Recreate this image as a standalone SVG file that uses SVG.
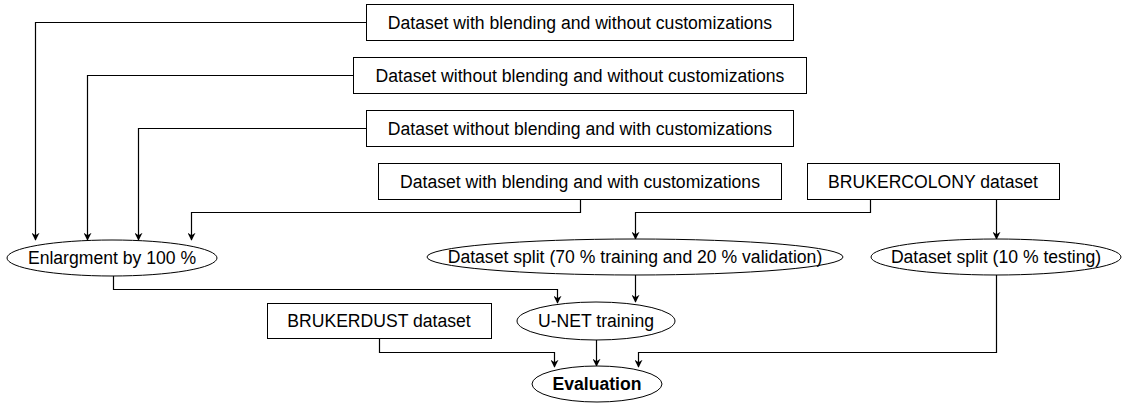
<svg xmlns="http://www.w3.org/2000/svg" width="1122" height="403" viewBox="0 0 1122 403">
<defs>
<marker id="ah" viewBox="0 0 10 10" refX="9" refY="5" markerWidth="8" markerHeight="8" markerUnits="userSpaceOnUse" orient="auto">
<path d="M0,0 L10,5 L0,10 L3,5 Z" fill="#000"/>
</marker>
</defs>
<style>
.box{fill:#fff;stroke:#000;stroke-width:1}
.t{font-family:"Liberation Sans",Arial,sans-serif;font-size:17.6px;fill:#000;text-anchor:middle;dominant-baseline:central}
.b{font-weight:bold}
.c{fill:none;stroke:#000;stroke-width:1.2;marker-end:url(#ah)}
.n{fill:none;stroke:#000;stroke-width:1.2}
</style>
<rect width="1122" height="403" fill="#fff"/>
<g id="connectors">
<path class="c" d="M366,22.5 H35.5 V240"/>
<path class="c" d="M353,75.5 H87.5 V240"/>
<path class="c" d="M366,128.5 H138.5 V240"/>
<path class="c" d="M580.5,199 V212.5 H191.5 V240"/>
<path class="c" d="M870.5,199 V212.5 H635.5 V239"/>
<path class="c" d="M996.5,199 V239"/>
<path class="c" d="M113.5,276 V289.5 H557.5 V303"/>
<path class="c" d="M635.5,275 V302"/>
<path class="c" d="M379.5,338 V352.5 H554.5 V367"/>
<path class="c" d="M596.5,340 V366"/>
<path class="c" d="M996.5,275 V352.5 H638.5 V367"/>
</g>
<g id="n1"><rect class="box" x="366.5" y="4.5" width="427" height="36"/><text class="t" x="580" y="22.5">Dataset with blending and without customizations</text></g>
<g id="n2"><rect class="box" x="353.5" y="57.5" width="453" height="36"/><text class="t" x="580" y="75.5">Dataset without blending and without customizations</text></g>
<g id="n3"><rect class="box" x="366.5" y="110.5" width="427" height="36"/><text class="t" x="580" y="128.5">Dataset without blending and with customizations</text></g>
<g id="n4"><rect class="box" x="378.5" y="163.5" width="403" height="36"/><text class="t" x="580" y="181.5">Dataset with blending and with customizations</text></g>
<g id="n5"><rect class="box" x="807.5" y="163.5" width="252" height="36"/><text class="t" x="933" y="181.5">BRUKERCOLONY dataset</text></g>
<g id="n6"><ellipse class="box" cx="112" cy="258" rx="105" ry="18"/><text class="t" x="112" y="258">Enlargment by 100 %</text></g>
<g id="n7"><ellipse class="box" cx="635" cy="257" rx="208" ry="18"/><text class="t" x="635" y="257">Dataset split (70 % training and 20 % validation)</text></g>
<g id="n8"><ellipse class="box" cx="996" cy="257" rx="125" ry="18"/><text class="t" x="996" y="257">Dataset split (10 % testing)</text></g>
<g id="n9"><rect class="box" x="267.5" y="303.5" width="224" height="35"/><text class="t" x="379" y="321">BRUKERDUST dataset</text></g>
<g id="n10"><ellipse class="box" cx="596" cy="321" rx="79" ry="19"/><text class="t" x="596" y="321">U-NET training</text></g>
<g id="n11"><ellipse class="box" cx="597" cy="384" rx="65" ry="18"/><text class="t b" x="597" y="384">Evaluation</text></g>
</svg>
